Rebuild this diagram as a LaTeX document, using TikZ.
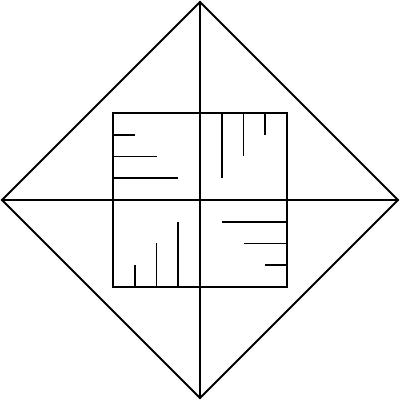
\documentclass[tikz,border=0pt]{standalone}
\usepackage{tikz}
\usetikzlibrary{positioning}

\begin{document}
\begin{tikzpicture}[x=0.025cm, y=0.025cm, edge/.style={draw=black, line width=1.3pt, line cap=round}, tick/.style={draw=black, line width=1.3pt}]

    \useasboundingbox (-200,-200) rectangle (200,200);

    %Points
    \coordinate (center) at (0,0);
    \coordinate (top) at (0,198);
    \coordinate (right) at (198,0);
    \coordinate (bottom) at (0,-198);
    \coordinate (left) at (-198,0);
    \coordinate (sqsw) at (-87,-87);
    \coordinate (sqne) at (87,87);

    %Lines
    \draw[edge] (top) -- (right) -- (bottom) -- (left) -- cycle;
    \draw[edge] (top) -- (bottom);
    \draw[edge] (left) -- (right);
    \draw[edge] (sqsw) rectangle (sqne);

    %Ticks
    \foreach \k in {1,2,3}{
        \draw[tick] (-87,{87-21.75*\k}) -- ++({21.75*\k},0);
        \draw[tick] ({21.75*\k},87) -- ++(0,{-21.75*(4-\k)});
        \draw[tick] ({-87+21.75*\k},-87) -- ++(0,{21.75*\k});
        \draw[tick] (87,{-21.75*\k}) -- ++({-21.75*(4-\k)},0);
    }

\end{tikzpicture}
\end{document}
